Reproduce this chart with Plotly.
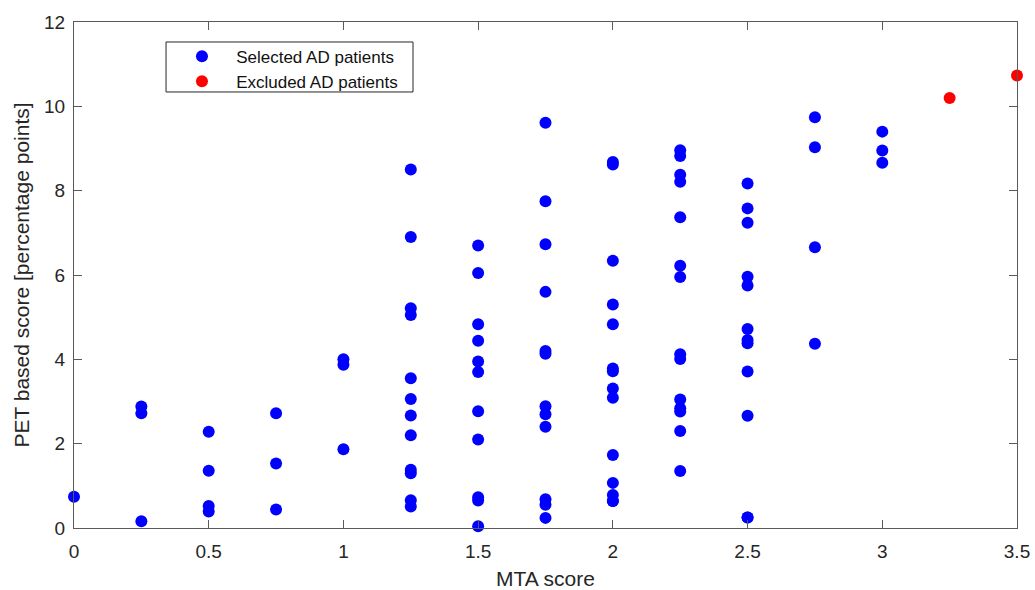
import plotly.graph_objects as go

# Selected AD patients: MTA score (x) and PET based score (y)
sel_x = [0,
         0.25, 0.25, 0.25,
         0.5, 0.5, 0.5, 0.5,
         0.75, 0.75, 0.75,
         1, 1, 1,
         1.25, 1.25, 1.25, 1.25, 1.25, 1.25, 1.25, 1.25, 1.25, 1.25, 1.25, 1.25,
         1.5, 1.5, 1.5, 1.5, 1.5, 1.5, 1.5, 1.5, 1.5, 1.5, 1.5,
         1.75, 1.75, 1.75, 1.75, 1.75, 1.75, 1.75, 1.75, 1.75, 1.75, 1.75, 1.75,
         2, 2, 2, 2, 2, 2, 2, 2, 2, 2, 2, 2, 2, 2,
         2.25, 2.25, 2.25, 2.25, 2.25, 2.25, 2.25, 2.25, 2.25, 2.25, 2.25, 2.25, 2.25, 2.25,
         2.5, 2.5, 2.5, 2.5, 2.5, 2.5, 2.5, 2.5, 2.5, 2.5, 2.5, 2.5,
         2.75, 2.75, 2.75, 2.75,
         3, 3, 3]
sel_y = [0.74,
         2.88, 2.72, 0.16,
         2.28, 1.36, 0.52, 0.39,
         2.72, 1.53, 0.44,
         4.00, 3.87, 1.87,
         8.50, 6.90, 5.21, 5.05, 3.55, 3.06, 2.67, 2.20, 1.38, 1.30, 0.66, 0.51,
         6.70, 6.05, 4.83, 4.44, 3.95, 3.70, 2.77, 2.10, 0.73, 0.65, 0.04,
         9.61, 7.75, 6.73, 5.60, 4.20, 4.13, 2.89, 2.70, 2.40, 0.68, 0.55, 0.24,
         8.68, 8.62, 6.34, 5.30, 4.83, 3.78, 3.72, 3.31, 3.09, 1.73, 1.07, 0.78, 0.64, 0.64,
         8.96, 8.82, 8.38, 8.21, 7.37, 6.22, 5.95, 4.12, 4.01, 3.05, 2.84, 2.76, 2.30, 1.35,
         8.17, 7.58, 7.24, 5.96, 5.75, 4.72, 4.46, 4.38, 3.71, 2.66, 0.25, 0.25,
         9.74, 9.03, 6.66, 4.37,
         9.40, 8.95, 8.66]

# Excluded AD patients
exc_x = [3.25, 3.5]
exc_y = [10.20, 10.73]

x_ticks = [0, 0.5, 1, 1.5, 2, 2.5, 3, 3.5]
x_labels = ["0", "0.5", "1", "1.5", "2", "2.5", "3", "3.5"]
y_ticks = [0, 2, 4, 6, 8, 10, 12]

FONT = "Liberation Sans, Arial, sans-serif"
AX = "#262626"
NB = "\u00a0"

fig = go.Figure()
fig.add_trace(go.Scatter(
    x=sel_x, y=sel_y, mode="markers",
    name=NB * 3 + "Selected AD patients",
    marker=dict(color="#0000ff", size=12, line=dict(width=0)),
    cliponaxis=False,
))
fig.add_trace(go.Scatter(
    x=exc_x, y=exc_y, mode="markers",
    name=NB * 3 + "Excluded AD patients",
    marker=dict(color="#ff0000", size=12, line=dict(width=0)),
    cliponaxis=False,
))

axis_common = dict(
    showline=True, linecolor="#5a5a5a", linewidth=1, mirror="ticks",
    ticks="inside", ticklen=8, tickcolor="#5a5a5a", tickwidth=1,
    showgrid=False, zeroline=False, automargin=False,
    tickfont=dict(family=FONT, size=19, color=AX),
)

# legend frame (MATLAB-style box around the legend entries)
fig.add_shape(type="rect", xref="paper", yref="paper",
              x0=0.0976, x1=0.3595, y0=0.8617, y1=0.9605,
              line=dict(color="#262626", width=1), fillcolor="white", layer="below")

fig.update_layout(
    width=1035, height=590,
    margin=dict(l=74, r=18, t=22, b=62),
    paper_bgcolor="white", plot_bgcolor="white",
    font=dict(family=FONT, color=AX),
    xaxis=dict(range=[0, 3.5], tickvals=x_ticks, ticktext=x_labels,
               ticklabelstandoff=6,
               title=dict(text="MTA score", font=dict(family=FONT, size=21, color=AX), standoff=10),
               **axis_common),
    yaxis=dict(range=[0, 12], tickvals=y_ticks, ticklabelstandoff=4,
               title=dict(text="PET based score [percentage points]",
                          font=dict(family=FONT, size=21, color=AX), standoff=8),
               **axis_common),
    legend=dict(x=0.1145, y=0.9670, xanchor="left", yanchor="top",
                borderwidth=0, bgcolor="rgba(0,0,0,0)",
                font=dict(family=FONT, size=17, color="#111111"),
                itemwidth=30),
    showlegend=True,
)

fig.write_html("out.html", config={"displayModeBar": False},
               post_script="document.body.style.margin='0';")
